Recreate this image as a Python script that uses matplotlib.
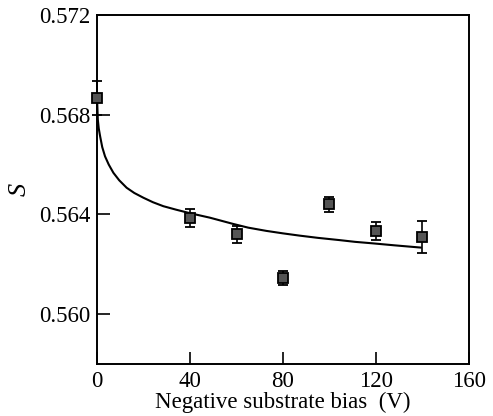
import matplotlib
matplotlib.use("Agg")
from matplotlib import pyplot as plt

plt.rc('font', family='Liberation Serif', size=16.5)

# measured points
bias = [0, 40, 60, 80, 100, 120, 140]
s_val = [0.56868, 0.56384, 0.56320, 0.56144, 0.56440, 0.56332, 0.56308]
s_err = [0.00068, 0.00036, 0.00034, 0.00028, 0.00030, 0.00036, 0.00064]

# fitted curve
fit_bias = [0, 0.3, 0.7, 1.3, 2.2, 3.4, 5.0, 7.0, 9.5, 12.7, 16.0, 19.9, 24.0,
            28.5, 34.0, 39.9, 44.2, 48.5, 58.5, 65.0, 72.8, 80.0, 87.1, 95.0,
            104.3, 111.0, 118.6, 128.0, 139.3]
fit_s = [0.56860, 0.56780, 0.56745, 0.56713, 0.56670, 0.56633, 0.56600, 0.56567,
         0.56537, 0.56507, 0.56486, 0.56467, 0.56449, 0.56433, 0.56419, 0.56405,
         0.56396, 0.56387, 0.56362, 0.56347, 0.56334, 0.56324, 0.56315, 0.56306,
         0.56297, 0.56290, 0.56284, 0.56276, 0.56267]

fig = plt.figure(figsize=(4.93, 4.16), dpi=100)
ax = fig.add_axes([0.197, 0.125, 0.754, 0.839])

ax.plot(fit_bias, fit_s, color='black', lw=1.5)
ax.errorbar(bias, s_val, yerr=s_err, fmt='s', color='black', ms=6.5,
            mfc='#555555', mec='black', mew=1.3, ecolor='black',
            elinewidth=1.2, capsize=3.6, capthick=1.2, clip_on=False, zorder=3)

ax.set_xlim(0, 160)
ax.set_ylim(0.558, 0.572)
ax.set_xticks([0, 40, 80, 120, 160])
ax.set_yticks([0.560, 0.564, 0.568, 0.572])
ax.set_yticklabels(['0.560', '0.564', '0.568', '0.572'])
ax.tick_params(direction='in', length=9, width=1.2, top=False, right=False, pad=5)
for sp in ax.spines.values():
    sp.set_linewidth(1.4)

ax.set_xlabel("Negative substrate bias  (V)", labelpad=0)
ax.set_ylabel("S", style='italic', fontsize=19, labelpad=6)

fig.savefig("out.png", dpi=100)
